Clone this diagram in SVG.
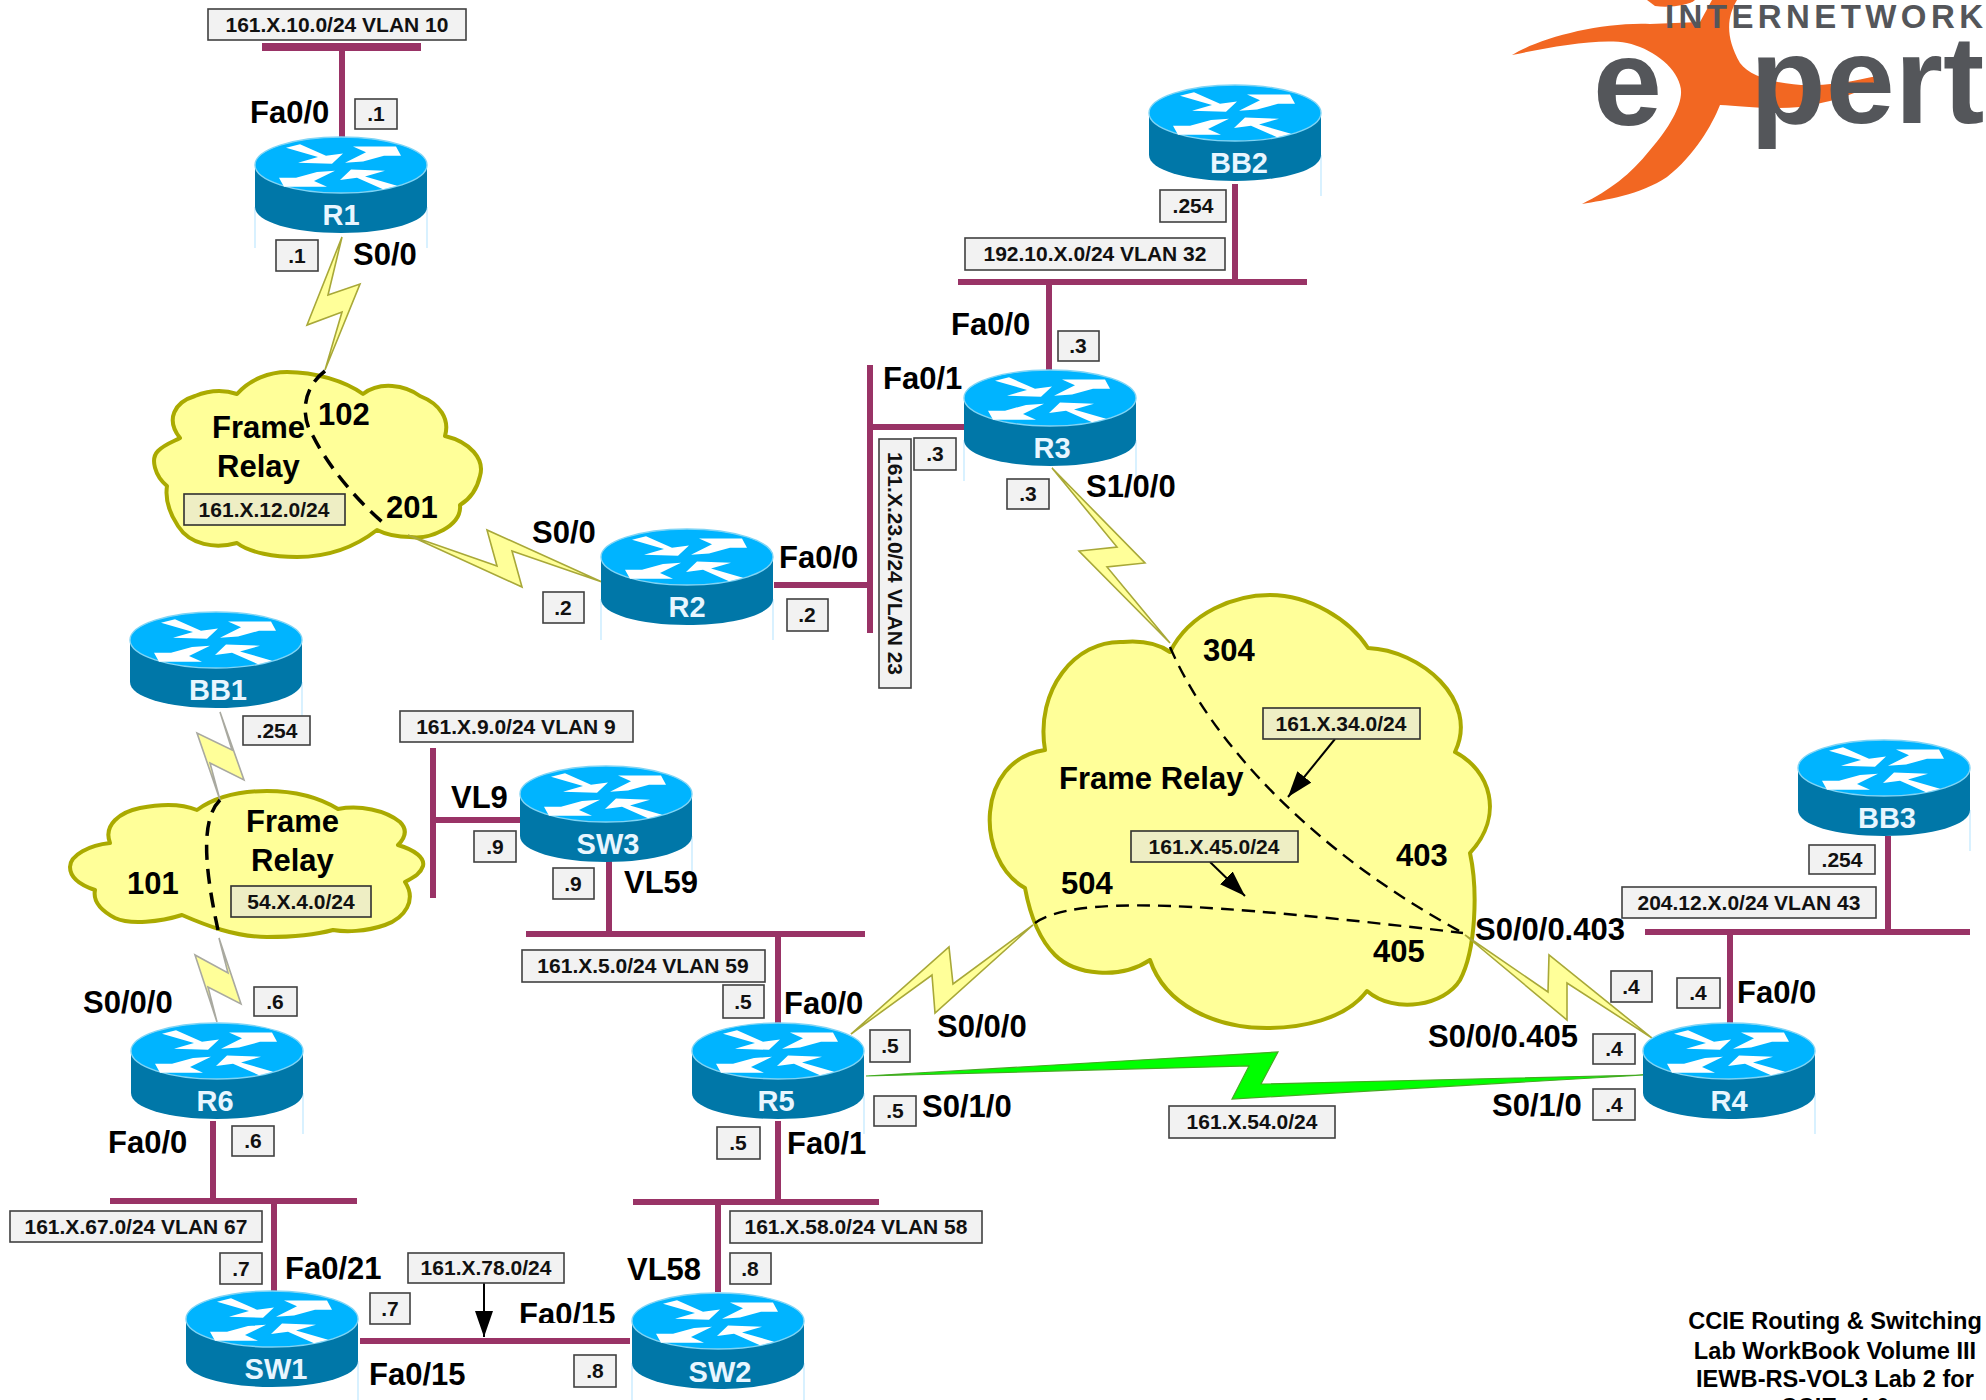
<svg xmlns="http://www.w3.org/2000/svg" width="1986" height="1400" viewBox="0 0 1986 1400">
<style>
text{font-family:"Liberation Sans",Arial,sans-serif;font-weight:bold;fill:#000}
.b{font-size:31px}
.t{font-size:21px;fill:#111;text-anchor:middle}
.n{font-size:29px;fill:#e8f6ff;text-anchor:middle}
.h{font-size:23.6px;text-anchor:middle}
.lg{fill:#54565a}
.box{fill:#f2f2f2;stroke:#404040;stroke-width:1.6}
.boxy{fill:#eeeec4;stroke:#303030;stroke-width:1.6}
.bus{fill:none;stroke:#993366;stroke-width:6}
.cloud{fill:#ffff99;stroke:#aaaa00;stroke-width:4;stroke-linejoin:round}
.bolt{fill:#ffff99;stroke:#a8a838;stroke-width:1.6}
.boltg{fill:#ffff99;stroke:#a9a9a0;stroke-width:1.6}
.green{fill:#00ff00;stroke:#44aa22;stroke-width:1.2}
.dash{fill:none;stroke:#000;stroke-width:3.5;stroke-dasharray:15 9}
.dash2{fill:none;stroke:#000;stroke-width:2.4;stroke-dasharray:13 8}
.arr{stroke:#000;stroke-width:2;fill:none;marker-end:url(#ah)}
.side{fill:none;stroke:#bfe8ff;stroke-width:1.2}
</style>
<defs>
<marker id="ah" markerUnits="userSpaceOnUse" markerWidth="26" markerHeight="18" refX="26" refY="9" orient="auto" viewBox="0 0 26 18"><path d="M0,0L26,9L0,18Z" fill="#000"/></marker>
<path id="ls" class="side" d="M-86,42V83"/>
<g id="router">
<path class="side" d="M86,42V83"/>
<path d="M-86,0V42C-86,57 -48,68 0,68C48,68 86,57 86,42V0Z" fill="#0077a8"/>
<ellipse cx="0" cy="0" rx="86" ry="28" fill="#00b4ff" stroke="#7fd4f5" stroke-width="1.4"/>
<g fill="#fff" transform="scale(1,1.15)">
<path id="a1" d="M-55,-15L-41,-18L-15,-8L2,-10L-9,-1L-43,-2L-23,-7Z"/>
<path id="a2" d="M4,-2L25,-11L12,-16L55,-16L60,-8L43,-8L22,-3Z"/>
<use href="#a1" transform="rotate(180) translate(-1,-3)"/>
<use href="#a2" transform="rotate(180) translate(2,-3)"/>
</g>
</g>
<clipPath id="cl"><rect x="500" y="1290" width="130" height="33"/></clipPath>
</defs>
<rect width="1986" height="1400" fill="#fff"/>

<g id="logo">
<path fill="#f26722" d="M1512,55C1540,38 1600,22 1650,24L1700,22L1712,0L1737,0C1728,15 1724,35 1740,63C1752,80 1790,86 1813,85C1840,85 1865,78 1883,75C1870,88 1845,100 1800,107C1770,110 1740,106 1720,105C1712,125 1695,155 1667,177C1640,195 1605,200 1582,204C1610,190 1630,175 1650,150C1672,125 1685,100 1680,85C1675,65 1650,48 1627,43C1600,38 1550,47 1512,55Z"/>
<path fill="#f26722" d="M1647,0H1695C1690,5 1670,8 1655,6Z"/>
<text class="lg" x="1665" y="28" textLength="318" lengthAdjust="spacing" style="font-size:33px">INTERNETWORK</text>
<text class="lg" x="1593" y="125" style="font-size:124px">e</text>
<text class="lg" x="1750" y="123" style="font-size:124px">pert</text>
</g>

<g id="clouds">
<path class="cloud" d="M237,394C250,379 270,372 287,372C315,372 345,381 363,394C380,381 405,385 420,396C440,404 450,419 445,436C470,442 485,459 480,476C476,494 465,502 460,505C462,526 430,540 410,537C395,537 385,534 377,530C350,551 320,557 297,557C275,557 250,553 237,543C215,549 190,545 178,526C170,514 165,499 167,486C155,476 150,459 158,451C165,444 175,441 180,438C165,419 175,402 195,396C210,390 225,390 237,394Z"/>
<path class="cloud" d="M197,810C215,797 240,791 267,791C295,791 320,798 338,809C360,805 385,810 400,822C408,830 405,838 398,845C415,850 425,858 423,866C420,875 412,878 405,882C417,900 405,918 385,925C365,932 345,932 333,930C315,935 290,937 267,937C235,937 205,925 182,915C160,922 130,925 115,918C100,910 93,900 95,890C80,885 70,877 70,867C70,855 90,845 110,843C103,825 120,812 140,808C165,803 185,805 197,810Z"/>
<path class="cloud" d="M1170,652C1190,612 1235,595 1270,595C1310,595 1350,620 1368,648C1420,650 1480,700 1455,752C1490,770 1505,815 1470,853C1478,890 1476,950 1460,980C1445,1005 1395,1015 1367,991C1345,1020 1300,1028 1267,1028C1215,1028 1165,1005 1150,960C1120,980 1075,975 1055,955C1040,940 1030,915 1025,888C975,860 975,760 1045,750C1035,690 1075,640 1123,642C1145,640 1160,645 1170,652Z"/>
</g>

<g id="connectors">
<path class="bus" style="stroke-width:8" d="M262,47H421"/>
<path class="bus" d="M342,47V137"/>
<path class="bus" d="M958,282H1307M1235,184V282M1049,282V370"/>
<path class="bus" d="M870,365V633M870,427H965M774,585H870"/>
<path class="bus" d="M433,748V898M433,820H520"/>
<path class="bus" d="M526,934H865M609,840V934M778,934V1023"/>
<path class="bus" d="M110,1201H357M213,1121V1201M274,1201V1291"/>
<path class="bus" d="M633,1202H879M778,1121V1202M718,1202V1292"/>
<path class="bus" d="M360,1341H630"/>
<path class="bus" d="M1645,932H1970M1730,932V1023M1888,836V932"/>
<polygon class="bolt" points="342,237 328,295 360,284 325,370 342,312 307,325"/>
<polygon class="bolt" points="408,535 522,587 512,551 602,582 487,530 497,566"/>
<polygon class="bolt" points="1052,468 1145,563 1107,567 1170,643 1079,551 1117,547"/>
<polygon class="bolt" points="851,1034 949,947 953,984 1033,925 935,1013 932,975"/>
<polygon class="bolt" points="1465,935 1548,992 1549,955 1652,1038 1567,983 1567,1020"/>
<polygon class="boltg" points="220,712 232,750 197,733 220,800 210,763 244,780"/>
<polygon class="boltg" points="219,938 228,973 195,955 217,1022 208,987 241,1004"/>
<polygon class="green" points="866,1076 1278,1052 1261,1084 1644,1075 1232,1099 1249,1066"/>
<path class="dash" d="M325,371C300,390 302,420 313,436C325,460 350,495 388,527"/>
<path class="dash" d="M220,800C200,820 205,870 218,930"/>
<path class="dash2" d="M1170,647C1210,740 1310,850 1463,933"/>
<path class="dash2" d="M1035,923C1075,895 1200,902 1463,933"/>
<path class="arr" d="M1335,739L1288,797"/>
<path class="arr" d="M1210,862L1245,896"/>
<path class="arr" d="M484,1283V1337"/>
</g>

<g id="R1"><use href="#ls" x="341" y="165"/><use href="#router" x="341" y="165"/><text class="n" x="341" y="225">R1</text></g>
<g id="BB2"><use href="#router" x="1235" y="113"/><text class="n" x="1239" y="173">BB2</text></g>
<g id="R3"><use href="#ls" x="1050" y="398"/><use href="#router" x="1050" y="398"/><text class="n" x="1052" y="458">R3</text></g>
<g id="R2"><use href="#ls" x="687" y="557"/><use href="#router" x="687" y="557"/><text class="n" x="687" y="617">R2</text></g>
<g id="BB1"><use href="#router" x="216" y="640"/><text class="n" x="218" y="700">BB1</text></g>
<g id="SW3"><use href="#router" x="606" y="794"/><text class="n" x="608" y="854">SW3</text></g>
<g id="R6"><use href="#router" x="217" y="1051"/><text class="n" x="215" y="1111">R6</text></g>
<g id="R5"><use href="#router" x="778" y="1051"/><text class="n" x="776" y="1111">R5</text></g>
<g id="R4"><use href="#router" x="1729" y="1051"/><text class="n" x="1729" y="1111">R4</text></g>
<g id="BB3"><use href="#router" x="1884" y="768"/><text class="n" x="1887" y="828">BB3</text></g>
<g id="SW1"><use href="#router" x="272" y="1319"/><text class="n" x="276" y="1379">SW1</text></g>
<g id="SW2"><use href="#ls" x="718" y="1321"/><use href="#router" x="718" y="1321"/><text class="n" x="720" y="1382">SW2</text></g>

<g id="address-labels">
<rect class="box" x="208" y="9" width="258" height="31"/><text class="t" x="337" y="32">161.X.10.0/24 VLAN 10</text>
<rect class="box" x="355" y="99" width="42" height="30"/><text class="t" x="376" y="121">.1</text>
<rect class="box" x="276" y="240" width="42" height="31"/><text class="t" x="297" y="263">.1</text>
<rect class="box" x="1160" y="190" width="66" height="32"/><text class="t" x="1193" y="213">.254</text>
<rect class="box" x="965" y="238" width="260" height="32"/><text class="t" x="1095" y="261">192.10.X.0/24 VLAN 32</text>
<rect class="box" x="1058" y="331" width="41" height="30"/><text class="t" x="1078" y="353">.3</text>
<rect class="box" x="914" y="438" width="42" height="32"/><text class="t" x="935" y="461">.3</text>
<rect class="box" x="1007" y="479" width="42" height="30"/><text class="t" x="1028" y="501">.3</text>
<rect class="box" x="879" y="439" width="32" height="249"/><g transform="translate(895,563.5) rotate(90)"><text class="t" x="0" y="7.5">161.X.23.0/24 VLAN 23</text></g>
<rect class="box" x="543" y="592" width="41" height="31"/><text class="t" x="563" y="615">.2</text>
<rect class="box" x="787" y="599" width="41" height="32"/><text class="t" x="807" y="622">.2</text>
<rect class="boxy" x="184" y="494" width="161" height="31"/><text class="t" x="264" y="517">161.X.12.0/24</text>
<rect class="box" x="243" y="716" width="67" height="29"/><text class="t" x="277" y="738">.254</text>
<rect class="box" x="254" y="987" width="43" height="29"/><text class="t" x="275" y="1009">.6</text>
<rect class="boxy" x="231" y="886" width="140" height="31"/><text class="t" x="301" y="909">54.X.4.0/24</text>
<rect class="box" x="400" y="711" width="233" height="31"/><text class="t" x="516" y="734">161.X.9.0/24 VLAN 9</text>
<rect class="box" x="474" y="831" width="42" height="31"/><text class="t" x="495" y="854">.9</text>
<rect class="box" x="553" y="868" width="41" height="31"/><text class="t" x="573" y="891">.9</text>
<rect class="box" x="522" y="950" width="243" height="32"/><text class="t" x="643" y="973">161.X.5.0/24 VLAN 59</text>
<rect class="box" x="723" y="985" width="41" height="33"/><text class="t" x="743" y="1009">.5</text>
<rect class="box" x="870" y="1030" width="40" height="32"/><text class="t" x="890" y="1053">.5</text>
<rect class="box" x="874" y="1096" width="42" height="30"/><text class="t" x="895" y="1118">.5</text>
<rect class="box" x="717" y="1127" width="43" height="32"/><text class="t" x="738" y="1150">.5</text>
<rect class="box" x="232" y="1126" width="42" height="30"/><text class="t" x="253" y="1148">.6</text>
<rect class="box" x="10" y="1211" width="252" height="31"/><text class="t" x="136" y="1234">161.X.67.0/24 VLAN 67</text>
<rect class="box" x="220" y="1253" width="42" height="31"/><text class="t" x="241" y="1276">.7</text>
<rect class="box" x="370" y="1293" width="40" height="31"/><text class="t" x="390" y="1316">.7</text>
<rect class="box" x="408" y="1253" width="156" height="30"/><text class="t" x="486" y="1275">161.X.78.0/24</text>
<rect class="box" x="730" y="1253" width="41" height="31"/><text class="t" x="750" y="1276">.8</text>
<rect class="box" x="730" y="1211" width="252" height="32"/><text class="t" x="856" y="1234">161.X.58.0/24 VLAN 58</text>
<rect class="box" x="574" y="1355" width="42" height="32"/><text class="t" x="595" y="1378">.8</text>
<rect class="box" x="1169" y="1106" width="166" height="32"/><text class="t" x="1252" y="1129">161.X.54.0/24</text>
<rect class="box" x="1593" y="1089" width="42" height="31"/><text class="t" x="1614" y="1112">.4</text>
<rect class="box" x="1593" y="1034" width="42" height="30"/><text class="t" x="1614" y="1056">.4</text>
<rect class="box" x="1611" y="971" width="41" height="31"/><text class="t" x="1631" y="994">.4</text>
<rect class="box" x="1677" y="978" width="43" height="30"/><text class="t" x="1698" y="1000">.4</text>
<rect class="box" x="1622" y="887" width="254" height="31"/><text class="t" x="1749" y="910">204.12.X.0/24 VLAN 43</text>
<rect class="box" x="1809" y="845" width="66" height="29"/><text class="t" x="1842" y="867">.254</text>
<rect class="boxy" x="1263" y="708" width="157" height="31"/><text class="t" x="1341" y="731">161.X.34.0/24</text>
<rect class="boxy" x="1131" y="831" width="167" height="31"/><text class="t" x="1214" y="854">161.X.45.0/24</text>
</g>

<g id="port-labels">
<text class="b" x="250" y="123">Fa0/0</text>
<text class="b" x="353" y="265">S0/0</text>
<text class="b" x="318" y="425">102</text>
<text class="b" x="212" y="438">Frame</text>
<text class="b" x="217" y="477">Relay</text>
<text class="b" x="386" y="518">201</text>
<text class="b" x="532" y="543">S0/0</text>
<text class="b" x="779" y="568">Fa0/0</text>
<text class="b" x="883" y="389">Fa0/1</text>
<text class="b" x="951" y="335">Fa0/0</text>
<text class="b" x="1086" y="497">S1/0/0</text>
<text class="b" x="1203" y="661">304</text>
<text class="b" x="1059" y="789">Frame Relay</text>
<text class="b" x="1396" y="866">403</text>
<text class="b" x="1061" y="894">504</text>
<text class="b" x="1373" y="962">405</text>
<text class="b" x="1475" y="940">S0/0/0.403</text>
<text class="b" x="1428" y="1047">S0/0/0.405</text>
<text class="b" x="1492" y="1116">S0/1/0</text>
<text class="b" x="1737" y="1003">Fa0/0</text>
<text class="b" x="937" y="1037">S0/0/0</text>
<text class="b" x="784" y="1014">Fa0/0</text>
<text class="b" x="922" y="1117">S0/1/0</text>
<text class="b" x="787" y="1154">Fa0/1</text>
<text class="b" x="451" y="808">VL9</text>
<text class="b" x="624" y="893">VL59</text>
<text class="b" x="246" y="832">Frame</text>
<text class="b" x="251" y="871">Relay</text>
<text class="b" x="127" y="894">101</text>
<text class="b" x="83" y="1013">S0/0/0</text>
<text class="b" x="108" y="1153">Fa0/0</text>
<text class="b" x="285" y="1279">Fa0/21</text>
<text class="b" x="627" y="1280">VL58</text>
<g clip-path="url(#cl)"><text class="b" x="519" y="1325">Fa0/15</text></g>
<text class="b" x="369" y="1385">Fa0/15</text>
</g>

<g id="title">
<text class="h" x="1835" y="1329">CCIE Routing &amp; Switching</text>
<text class="h" x="1835" y="1359">Lab WorkBook Volume III</text>
<text class="h" x="1835" y="1387">IEWB-RS-VOL3 Lab 2 for</text>
<text class="h" x="1835" y="1415">CCIE v4.0</text>
</g>
</svg>
